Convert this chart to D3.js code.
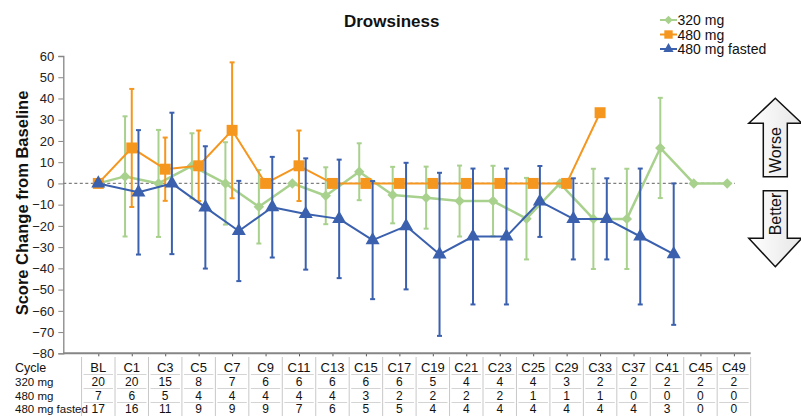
<!DOCTYPE html>
<html>
<head>
<meta charset="utf-8">
<script src="https://cdn.jsdelivr.net/npm/d3@7"></script>
<style>
  html, body { margin: 0; padding: 0; background: #fff; }
  svg { display: block; font-family: Arial, "Liberation Sans", sans-serif; }
</style>
</head>
<body>
<svg id="chart" width="801" height="416"></svg>
<script>
// Visit cycles
const cycles = ["BL","C1","C3","C5","C7","C9","C11","C13","C15","C17","C19","C21","C23","C25","C29","C33","C37","C41","C45","C49"];

// Mean change from baseline and SD (null = no value / no bar)
const mean320 = [0, 3.3, 0, 8.3, 0, -11, 0, -5.8, 5.5, -5.5, -6.7, -8.3, -8.3, -16.6, 0, -16.7, -16.7, 16.7, 0, 0];
const sd320   = [null, 28.3, 25.2, 15.3, 19.4, 17.3, null, 13.4, 13.4, 13.3, 14.6, 16.7, 16.6, 19.2, null, 23.6, 23.6, 23.6, null, null];

const mean480 = [0, 16.7, 6.7, 8.3, 25, 0, 8.3, 0, 0, 0, 0, 0, 0, 0, 0, 33.3, null, null, null, null];
const sd480   = [null, 27.8, 14.9, 16.6, 32, null, 16.6, null, null, null, null, null, null, null, null, null, null, null, null, null];

const meanFasted = [0, -4.2, 0, -11.3, -22.4, -11.2, -14.4, -16.7, -26.7, -20.1, -33.4, -25, -25, -8.5, -16.7, -16.7, -25, -33.3, null, null];
const sdFasted   = [null, 29.3, 33.3, 28.8, 23.6, 23.7, 26.2, 27.9, 27.8, 29.8, 38.4, 32, 32, 16.7, 19.1, 19.1, 32, 33.3, null, null];

// Patients per cycle
const n320    = [20,20,15,8,7,6,6,6,6,6,5,4,4,4,3,2,2,2,2,2];
const n480    = [7,6,5,4,4,4,4,4,3,2,2,2,2,1,1,1,0,0,0,0];
const nFasted = [17,16,11,9,9,9,7,6,5,5,4,4,4,4,4,4,4,3,0,0];

const yTicks = d3.range(-80, 61, 10);

const series = [
  { name: "320 mg",        mean: mean320,    sd: sd320,    color: "#a9d18e", shift: -6.7, shape: "diamond",  lw: 2.5 },
  { name: "480 mg",        mean: mean480,    sd: sd480,    color: "#f5961e", shift: 0,    shape: "square",   lw: 2 },
  { name: "480 mg fasted", mean: meanFasted, sd: sdFasted, color: "#3a60ae", shift: 6.7,  shape: "triangle", lw: 2 }
];

const svg = d3.select("#chart");

const x = d3.scalePoint().domain(cycles).range([98.3, 733.9]);
const step = x.step();
const y = d3.scaleLinear().domain([-80, 60]).range([353.3, 56]);

// title
svg.append("text").attr("x", 391.7).attr("y", 27).attr("text-anchor", "middle")
  .attr("font-size", 17).attr("font-weight", "bold").attr("fill", "#111").text("Drowsiness");

// y axis title
svg.append("text").attr("transform", "translate(28,203) rotate(-90)").attr("text-anchor", "middle")
  .attr("font-size", 16.5).attr("font-weight", "bold").attr("fill", "#111").text("Score Change from Baseline");

// y axis
const yAxis = svg.append("g").attr("transform", "translate(63.3,0)")
  .call(d3.axisLeft(y).tickValues(yTicks).tickSize(5).tickPadding(4));
yAxis.select(".domain").attr("stroke", "#868686").attr("stroke-width", 1.3);
yAxis.selectAll(".tick line").attr("stroke", "#868686");
yAxis.selectAll(".tick text").attr("font-size", 13).attr("fill", "#222")
  .attr("font-family", "Arial, 'Liberation Sans', sans-serif");

// x axis
const xAxis = svg.append("g").attr("transform", `translate(0,${y(-80)})`)
  .call(d3.axisBottom(x).tickSize(3).tickFormat(""));
xAxis.select(".domain").remove();
xAxis.selectAll(".tick line").attr("stroke", "#555");
svg.append("line").attr("x1", 63.3).attr("x2", x(cycles[cycles.length - 1]) + step / 2)
  .attr("y1", y(-80)).attr("y2", y(-80)).attr("stroke", "#868686").attr("stroke-width", 2);

// zero reference line
svg.append("line").attr("x1", 63.3).attr("x2", 735).attr("y1", y(0)).attr("y2", y(0))
  .attr("stroke", "#7f7f7f").attr("stroke-width", 1.2).attr("stroke-dasharray", "3,2.5");

const sym = {
  diamond:  d3.symbol().type(d3.symbolDiamond2).size(70),
  square:   d3.symbol().type(d3.symbolSquare).size(120),
  triangle: d3.symbol().type(d3.symbolTriangle).size(85)
};

function px(s, i) { return x(cycles[i]) + (i === 0 ? 0 : s.shift); }

series.forEach(s => {
  const g = svg.append("g");
  const pts = s.mean.map((v, i) => ({ i, v, sd: s.sd[i] })).filter(d => d.v !== null);

  // error bars
  pts.filter(d => d.sd !== null).forEach(d => {
    const cx = px(s, d.i);
    const top = y(d.v + d.sd), bot = y(d.v - d.sd);
    g.append("line").attr("x1", cx).attr("x2", cx).attr("y1", top).attr("y2", bot)
      .attr("stroke", s.color).attr("stroke-width", 2);
    [top, bot].forEach(yy => g.append("line").attr("x1", cx - 2.5).attr("x2", cx + 2.5)
      .attr("y1", yy).attr("y2", yy).attr("stroke", s.color).attr("stroke-width", 2));
  });

  // line
  g.append("path").datum(pts)
    .attr("d", d3.line().x(d => px(s, d.i)).y(d => y(d.v)))
    .attr("fill", "none").attr("stroke", s.color).attr("stroke-width", s.lw)
    .attr("stroke-linejoin", "round");

  // markers
  g.selectAll("path.m").data(pts).join("path").attr("class", "m")
    .attr("d", sym[s.shape]())
    .attr("transform", d => `translate(${px(s, d.i)},${y(d.v)})`)
    .attr("fill", s.color);
});

// legend
const leg = svg.append("g");
series.forEach((s, k) => {
  const ly = 20 + k * 14.5;
  leg.append("line").attr("x1", 660).attr("x2", 677).attr("y1", ly).attr("y2", ly)
    .attr("stroke", s.color).attr("stroke-width", 2);
  const legSym = d3.symbol().type(
    s.shape === "diamond" ? d3.symbolDiamond2 : s.shape === "square" ? d3.symbolSquare : d3.symbolTriangle
  ).size(s.shape === "square" ? 70 : 45);
  leg.append("path").attr("d", legSym()).attr("transform", `translate(668.5,${ly})`).attr("fill", s.color);
  leg.append("text").attr("x", 677.5).attr("y", ly + 5).attr("font-size", 14).attr("fill", "#111").text(s.name);
});

// Worse / Better arrows
const defs = svg.append("defs");
const grad = defs.append("linearGradient").attr("id", "arrowFill").attr("x1", 0).attr("x2", 1).attr("y1", 0).attr("y2", 0);
grad.append("stop").attr("offset", "0%").attr("stop-color", "#ffffff");
grad.append("stop").attr("offset", "100%").attr("stop-color", "#e6e6e6");

function arrowUp(cx, tip, headBase, bottom, shaftHalf, headHalf) {
  return `M${cx},${tip} L${cx + headHalf},${headBase} L${cx + shaftHalf},${headBase} L${cx + shaftHalf},${bottom}
          L${cx - shaftHalf},${bottom} L${cx - shaftHalf},${headBase} L${cx - headHalf},${headBase} Z`;
}
function arrowDown(cx, tip, headBase, top, shaftHalf, headHalf) {
  return `M${cx},${tip} L${cx + headHalf},${headBase} L${cx + shaftHalf},${headBase} L${cx + shaftHalf},${top}
          L${cx - shaftHalf},${top} L${cx - shaftHalf},${headBase} L${cx - headHalf},${headBase} Z`;
}
svg.append("path").attr("d", arrowUp(775.3, 98.3, 123.3, 176.7, 12, 26.5))
  .attr("fill", "url(#arrowFill)").attr("stroke", "#111").attr("stroke-width", 1.5);
svg.append("path").attr("d", arrowDown(775.3, 266.7, 238.3, 190.7, 12, 26.5))
  .attr("fill", "url(#arrowFill)").attr("stroke", "#111").attr("stroke-width", 1.5);
svg.append("text").attr("transform", "translate(781,150) rotate(-90)").attr("text-anchor", "middle")
  .attr("font-size", 16).attr("fill", "#111").text("Worse");
svg.append("text").attr("transform", "translate(781,214) rotate(-90)").attr("text-anchor", "middle")
  .attr("font-size", 16).attr("fill", "#111").text("Better");

// data table under the axis
const rows = [
  { label: "Cycle",         vals: cycles },
  { label: "320 mg",        vals: n320 },
  { label: "480 mg",        vals: n480 },
  { label: "480 mg fasted", vals: nFasted }
];
const rowBase = [371.5, 385.5, 399.5, 413];
const table = svg.append("g");
const left0 = x(cycles[0]) - step / 2;
for (let k = 0; k <= cycles.length; k++) {
  const bx = left0 + k * step;
  table.append("line").attr("x1", bx).attr("x2", bx).attr("y1", 357).attr("y2", 416)
    .attr("stroke", "#c8c8c8").attr("stroke-width", 1);
}
[374.5, 388.5, 402.5].forEach(hy => {
  cycles.forEach(c => {
    table.append("line").attr("x1", x(c) - step / 2 + 2).attr("x2", x(c) + step / 2 - 2)
      .attr("y1", hy).attr("y2", hy).attr("stroke", "#d4d4d4").attr("stroke-width", 1);
  });
});
rows.forEach((r, ri) => {
  table.append("text").attr("x", 15).attr("y", rowBase[ri])
    .attr("font-size", ri === 0 ? 12.5 : 11.5).attr("fill", "#111").text(r.label);
  r.vals.forEach((v, i) => {
    table.append("text").attr("x", x(cycles[i])).attr("y", rowBase[ri])
      .attr("text-anchor", "middle").attr("font-size", ri === 0 ? 13 : 12).attr("fill", "#111").text(v);
  });
});
</script>
</body>
</html>
